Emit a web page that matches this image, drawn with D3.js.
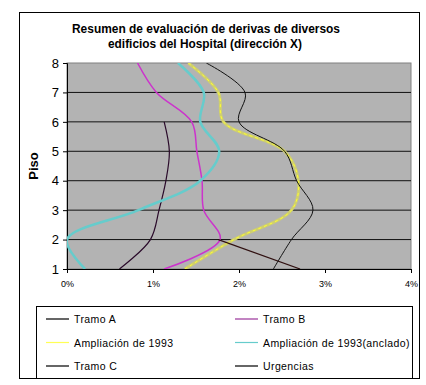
<!DOCTYPE html>
<html>
<head>
<meta charset="utf-8">
<script src="https://cdn.jsdelivr.net/npm/d3@7"></script>
<style>
  body { margin: 0; background: #fff; }
  text { font-family: "Liberation Sans", Arial, sans-serif; }
</style>
</head>
<body>
<div id="chart"></div>
<script>
// data: drift (%) per floor
const floors = [1, 2, 3, 4, 5, 6, 7, 8];
const tramoA = [0.61, 0.97, 1.07, 1.15, 1.19, 1.13];
const tramoB = [1.13, 1.78, 1.59, 1.57, 1.51, 1.45, 1.04, 0.82];
const ampliacion = [1.37, 1.94, 2.61, 2.69, 2.53, 1.82, 1.76, 1.41];
const anclado = [0.21, 0.0, 0.83, 1.55, 1.77, 1.55, 1.59, 1.29];
const tramoC = [2.71, 1.76];
const urgencias = [2.40, 2.61, 2.86, 2.67, 2.53, 2.00, 2.07, 1.62];
const xTicks = [0, 1, 2, 3, 4];

const series = [
  {name: 'Tramo A', values: tramoA, color: '#2a0a2a', legend: '#000', width: 1.2},
  {name: 'Tramo B', values: tramoB, color: '#cc33cc', legend: '#993399', width: 1.5},
  {name: 'Ampliación de 1993', values: ampliacion, color: '#cfcf6f', legend: '#ffff55', width: 3, inner: '#ffff33'},
  {name: 'Ampliación de 1993(anclado)', values: anclado, color: '#66cccc', legend: '#66cccc', width: 2.5},
  {name: 'Tramo C', values: tramoC, color: '#301010', legend: '#000', width: 1.2},
  {name: 'Urgencias', values: urgencias, color: '#111', legend: '#000', width: 1}
];

const width = 426, height = 385;
const margin = {t: 63, r: 15, b: 116, l: 67};
const w = width - margin.l - margin.r;
const h = height - margin.t - margin.b;

const svg = d3.select('#chart').append('svg')
  .attr('width', width)
  .attr('height', height);

// outer frame
svg.append('rect')
  .attr('x', 19.5).attr('y', 12.5)
  .attr('width', 400).attr('height', 366)
  .attr('fill', '#fff').attr('stroke', '#000').attr('stroke-width', 1);

// title
const title = svg.append('text')
  .attr('font-weight', 'bold')
  .attr('font-size', 12)
  .attr('text-anchor', 'middle');
title.append('tspan').attr('x', 206).attr('y', 33)
  .attr('textLength', 268).attr('lengthAdjust', 'spacingAndGlyphs')
  .text('Resumen de evaluación de derivas de diversos');
title.append('tspan').attr('x', 205).attr('y', 48)
  .attr('textLength', 194).attr('lengthAdjust', 'spacingAndGlyphs')
  .text('edificios del Hospital (dirección X)');

const plot = svg.append('g')
  .attr('transform', `translate(${margin.l},${margin.t})`);

const scaleX = d3.scaleLinear().domain([0, 4]).range([0, w]);
const scaleY = d3.scaleLinear().domain([1, 8]).range([h, 0]);

plot.append('rect')
  .attr('width', w).attr('height', h)
  .attr('fill', '#b3b3b3')
  .attr('stroke', '#808080');

// gridlines
plot.selectAll('.grid')
  .data(floors.slice(1, 7))
  .enter().append('line')
  .attr('class', 'grid')
  .attr('x1', 0).attr('x2', w)
  .attr('y1', d => scaleY(d)).attr('y2', d => scaleY(d))
  .attr('stroke', '#111').attr('stroke-width', 1);

// axes
const axisY = d3.axisLeft(scaleY).tickValues(floors).tickSize(4).tickFormat(d3.format('d'));
const axisX = d3.axisBottom(scaleX).tickValues(xTicks).tickSize(4).tickFormat(d => d + '%');

const axisYNode = plot.append('g').call(axisY);
axisYNode.select('.domain').attr('stroke', '#000');
axisYNode.selectAll('text')
  .attr('font-size', 13).attr('fill', '#000')
  .attr('font-family', '"Liberation Sans", Arial, sans-serif')
  .attr('dx', -1);

const axisXNode = plot.append('g')
  .attr('transform', `translate(0,${h})`)
  .call(axisX);
axisXNode.select('.domain').attr('stroke', '#000');
axisXNode.selectAll('text')
  .attr('font-size', 9).attr('fill', '#000')
  .attr('font-family', '"Liberation Sans", Arial, sans-serif')
  .attr('dy', 11);

svg.append('text')
  .attr('transform', `translate(38,${margin.t + h / 2}) rotate(-90)`)
  .attr('text-anchor', 'middle')
  .attr('font-weight', 'bold')
  .attr('font-size', 13)
  .text('Piso');

// lines
svg.append('clipPath').attr('id', 'clip')
  .append('rect').attr('width', w).attr('height', h);

const line = d3.line()
  .x(d => scaleX(d))
  .y((d, i) => scaleY(floors[i]))
  .curve(d3.curveCatmullRom.alpha(0.5));

const lines = plot.append('g').attr('clip-path', 'url(#clip)');
series.forEach(s => {
  lines.append('path')
    .attr('d', line(s.values))
    .attr('fill', 'none')
    .attr('stroke', s.color)
    .attr('stroke-width', s.width);
  if (s.inner) {
    lines.append('path')
      .attr('d', line(s.values))
      .attr('fill', 'none')
      .attr('stroke', s.inner)
      .attr('stroke-width', 1)
      .attr('stroke-dasharray', '3,3');
  }
});

// legend
const legend = svg.append('g');
legend.append('rect')
  .attr('x', 36.5).attr('y', 306.5)
  .attr('width', 376).attr('height', 72)
  .attr('fill', '#fff').attr('stroke', '#000');

const legendItem = legend.selectAll('.item')
  .data(series)
  .enter().append('g')
  .attr('class', 'item')
  .attr('transform', (d, i) => `translate(${i % 2 ? 235 : 46},${319 + Math.floor(i / 2) * 23.5})`);

legendItem.append('line')
  .attr('x1', 0).attr('x2', 23)
  .attr('stroke', d => d.legend)
  .attr('stroke-width', 1.2);

legendItem.append('text')
  .attr('x', 28).attr('y', 4)
  .attr('font-size', 10.5)
  .attr('letter-spacing', 0.4)
  .text(d => d.name);
</script>
</body>
</html>
